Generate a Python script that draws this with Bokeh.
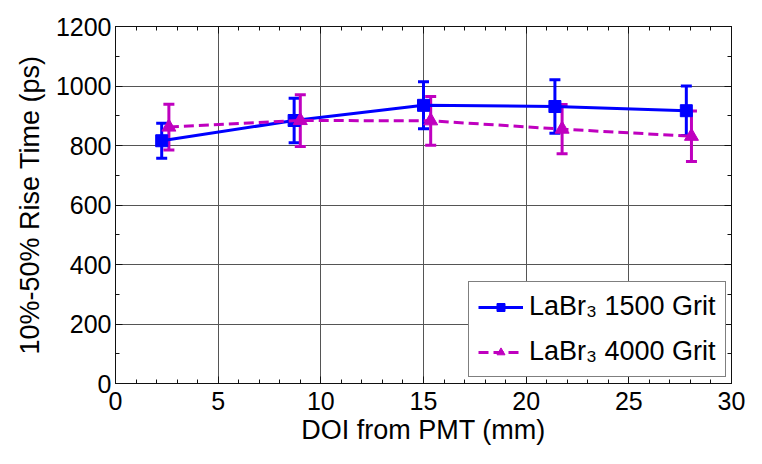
from bokeh.plotting import figure
from bokeh.models import (Range1d, SingleIntervalTicker, LinearAxis, Whisker, TeeHead,
                          ColumnDataSource, Legend, LegendItem, CustomJSTickFormatter)
from bokeh.embed import file_html
from bokeh.resources import INLINE

# Data
doi_1500 = [2.25, 8.7, 15.0, 21.4, 27.8]
rise_1500 = [816, 884, 935, 931, 917]
err_1500 = [59, 75, 79, 90, 83]

doi_4000 = [2.6, 9.0, 15.35, 21.75, 28.05]
rise_4000 = [862, 884, 883, 855, 831]
err_4000 = [77, 87, 82, 83, 85]

label_1500 = "LaBr\u2083 1500 Grit"
label_4000 = "LaBr\u2083 4000 Grit"

BLUE = "#0000FF"
MAG = "#BF00BF"
FONT = "Liberation Sans"

p = figure(width=746, height=448, output_backend="svg", toolbar_location=None,
           x_range=Range1d(0, 30), y_range=Range1d(0, 1200),
           min_border_left=115, min_border_right=15, min_border_top=26, min_border_bottom=65,
           x_axis_label="DOI from PMT (mm)", y_axis_label="10%-50% Rise Time (ps)")
p.background_fill_color = "white"
p.border_fill_color = "white"
p.outline_line_color = "#222222"

xt = SingleIntervalTicker(interval=5, num_minor_ticks=5)
yt = SingleIntervalTicker(interval=200, num_minor_ticks=2)
p.xaxis.ticker = xt
p.yaxis.ticker = yt
p.xgrid.ticker = xt
p.ygrid.ticker = yt
for g in (p.xgrid, p.ygrid):
    g.grid_line_color = "#555555"
    g.grid_line_width = 1

def style_axis(ax):
    ax.axis_line_color = "#111111"
    ax.major_tick_in = 7
    ax.major_tick_out = 0
    ax.minor_tick_in = 4
    ax.minor_tick_out = 0
    ax.major_tick_line_color = "#111111"
    ax.minor_tick_line_color = "#111111"
    ax.major_label_text_font = FONT
    ax.major_label_text_font_size = "25px"
    ax.major_label_text_color = "black"
    ax.axis_label_text_font = FONT
    ax.axis_label_text_font_size = "27px"
    ax.axis_label_text_font_style = "normal"
    ax.axis_label_text_color = "black"

for ax in p.xaxis + p.yaxis:
    style_axis(ax)
p.yaxis.major_label_standoff = 4
p.yaxis.axis_label_standoff = 8
p.xaxis.major_label_standoff = 8
p.xaxis.axis_label_standoff = 2

empty = CustomJSTickFormatter(code="return ''")
top = LinearAxis(ticker=xt, formatter=empty, major_label_standoff=0)
right = LinearAxis(ticker=yt, formatter=empty, major_label_standoff=0)
for ax in (top, right):
    style_axis(ax)
    ax.major_label_text_font_size = "1px"
p.add_layout(top, "above")
p.add_layout(right, "right")

src1 = ColumnDataSource(dict(x=doi_1500, y=rise_1500,
                             lo=[v - e for v, e in zip(rise_1500, err_1500)],
                             hi=[v + e for v, e in zip(rise_1500, err_1500)]))
src2 = ColumnDataSource(dict(x=doi_4000, y=rise_4000,
                             lo=[v - e for v, e in zip(rise_4000, err_4000)],
                             hi=[v + e for v, e in zip(rise_4000, err_4000)]))

def whisk(src, color):
    w = Whisker(source=src, base="x", lower="lo", upper="hi", dimension="height",
                line_color=color, line_width=3,
                upper_head=TeeHead(size=11, line_color=color, line_width=3),
                lower_head=TeeHead(size=11, line_color=color, line_width=3))
    p.add_layout(w)

whisk(src1, BLUE)
l1 = p.line("x", "y", source=src1, line_color=BLUE, line_width=3)
s1 = p.scatter("x", "y", source=src1, marker="square", size=12, fill_color=BLUE, line_color=BLUE)
whisk(src2, MAG)
l2 = p.line("x", "y", source=src2, line_color=MAG, line_width=3, line_dash="10 5")
s2 = p.scatter("x", "y", source=src2, marker="triangle", size=14, fill_color=MAG, line_color=MAG)

legend = Legend(items=[LegendItem(label=label_1500, renderers=[l1, s1]),
                       LegendItem(label=label_4000, renderers=[l2, s2])],
                location=(353, 6))
legend.label_text_font = FONT
legend.label_text_font_size = "27px"
legend.label_text_color = "black"
legend.glyph_width = 45
legend.glyph_height = 20
legend.label_standoff = 6
legend.padding = 9
legend.spacing = 14
legend.margin = 0
legend.border_line_color = "black"
legend.border_line_width = 1
legend.background_fill_color = "white"
legend.background_fill_alpha = 1
p.add_layout(legend, "center")

open("out.html", "w").write(file_html(p, INLINE))
